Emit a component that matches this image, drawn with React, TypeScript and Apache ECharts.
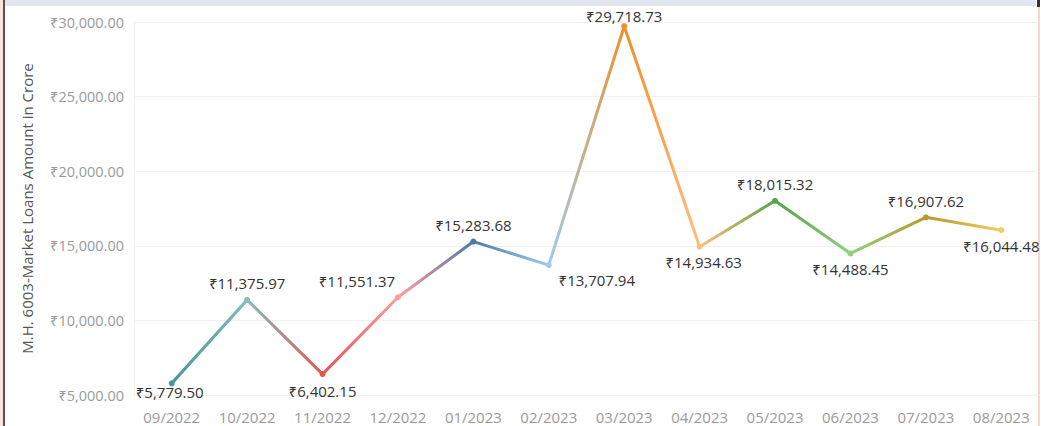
import React, { useEffect, useRef } from "react";
import * as echarts from "echarts";

const categories = ["09/2022", "10/2022", "11/2022", "12/2022", "01/2023", "02/2023", "03/2023", "04/2023", "05/2023", "06/2023", "07/2023", "08/2023"];
const values = [5779.5, 11375.97, 6402.15, 11551.37, 15283.68, 13707.94, 29718.73, 14934.63, 18015.32, 14488.45, 16907.62, 16044.48];
const pointColors = ["#499894", "#86BCB6", "#E15759", "#FF9D9A", "#4E79A7", "#A0CBE8", "#F28E2B", "#FFBE7D", "#59A14F", "#8CD17D", "#B6992D", "#F1CE63"];
const labelPositions = ["bottom", "top", "bottom", "top", "top", "bottom", "top", "bottom", "top", "bottom", "top", "bottom"];
const labelOffsets: number[][] = [[-2, -8], [0, 0], [0, 0], [-41, 0], [0, 0], [48, -2], [0, 6], [4, -1], [0, 0], [0, -1], [0, 0], [0, -1]];
const yTicks = [5000, 10000, 15000, 20000, 25000, 30000];

const fmt = (v: number) =>
  "₹" + v.toLocaleString("en-US", { minimumFractionDigits: 2, maximumFractionDigits: 2 });

export default function App() {
  const ref = useRef<HTMLDivElement>(null);
  useEffect(() => {
    document.body.style.margin = "0";
    const chart = echarts.init(ref.current!, null, { renderer: "svg" });
    const font = "'Open Sans', 'Noto Sans', sans-serif";
    chart.setOption({
      animation: false,
      backgroundColor: "#ffffff",
      textStyle: { fontFamily: font },
      grid: { left: 134, right: 2, top: 22, bottom: 31 },
      graphic: [
        { type: "rect", shape: { x: 0, y: 0, width: 1036, height: 6 }, style: { fill: "#e3e6f1" }, silent: true },
        { type: "rect", shape: { x: 0, y: 0, width: 3, height: 426 }, style: { fill: "#f6e6df" }, silent: true },
        { type: "rect", shape: { x: 3, y: 0, width: 2, height: 426 }, style: { fill: "#6b4a40" }, silent: true },
        { type: "rect", shape: { x: 1038, y: 6, width: 2, height: 420 }, style: { fill: "#f6d8c8" }, silent: true },
        { type: "rect", shape: { x: 1037, y: 0, width: 3, height: 7 }, style: { fill: "#333333" }, silent: true },
      ],
      xAxis: {
        type: "category",
        data: categories,
        boundaryGap: true,
        axisLine: { show: true, lineStyle: { color: "#eeeeee" } },
        axisTick: { show: false },
        axisLabel: { color: "#9a9a9a", fontSize: 15, margin: 14, fontFamily: font },
      },
      yAxis: {
        type: "value",
        min: 5000,
        max: 30000,
        interval: 5000,
        name: "M.H. 6003-Market Loans Amount in Crore",
        nameLocation: "middle",
        nameGap: 100,
        nameTextStyle: { color: "#555555", fontSize: 15, fontFamily: font },
        axisLine: { show: true, lineStyle: { color: "#f0f0f0" } },
        axisTick: { show: false },
        axisLabel: { color: "#9a9a9a", fontSize: 14.5, margin: 10, fontFamily: font, formatter: (v: number) => (yTicks.includes(v) ? fmt(v) : "") },
        splitLine: { lineStyle: { color: "#f0f0f0" } },
      },
      series: [
        {
          type: "line",
          data: values.map((v, i) => ({
            value: v,
            itemStyle: { color: pointColors[i] },
            label: {
              position: labelPositions[i],
              offset: labelOffsets[i],
            },
          })),
          symbol: "circle",
          symbolSize: 6,
          lineStyle: {
            width: 3,
            color: new echarts.graphic.LinearGradient(
              0, 0, 1, 0,
              pointColors.map((c, i) => ({ offset: i / (pointColors.length - 1), color: c }))
            ),
          },
          label: {
            show: true,
            color: "#333333",
            fontSize: 15,
            fontFamily: font,
            distance: 6,
            formatter: (p: any) => fmt(p.value),
          },
        },
      ],
    });
    return () => chart.dispose();
  }, []);
  return <div ref={ref} style={{ width: 1041, height: 426 }} />;
}
